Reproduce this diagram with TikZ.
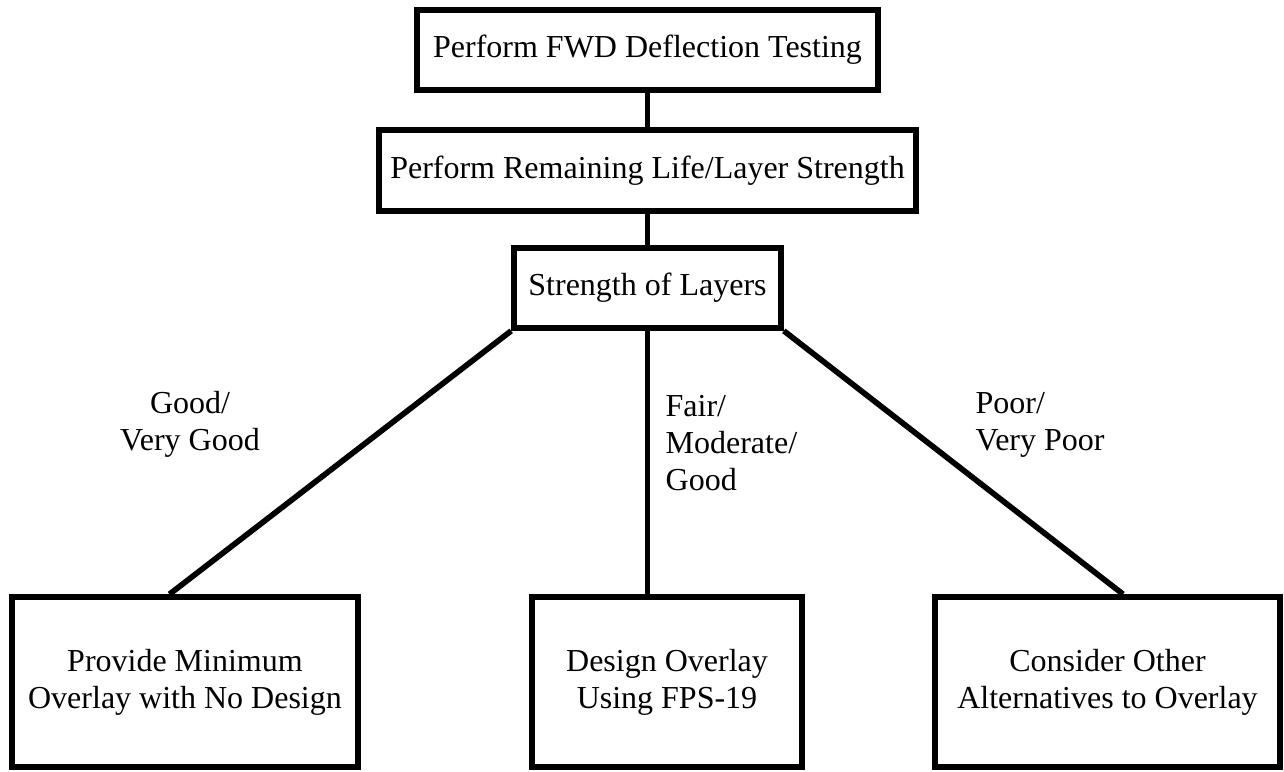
\documentclass[tikz,border=0pt]{standalone}
\usepackage{fontspec}
\setmainfont{Liberation Serif}
\begin{document}
\begin{tikzpicture}[x=0.3pt,y=-0.3pt,
  box/.style={draw,line width=1.7pt,inner sep=0pt,align=center,font=\fontsize{9.6}{11.2}\selectfont},
  branch/.style={line width=1.7pt},
  tag/.style={inner sep=0pt,font=\fontsize{9.6}{11.2}\selectfont}]
  \useasboundingbox (0,0) rectangle (1284,771);
  % top boxes
  \node[box,minimum width=138.3pt,minimum height=24pt] (fwd) at (647.5,50) {Perform FWD Deflection Testing};
  \node[box,minimum width=161.1pt,minimum height=24.3pt] (life) at (647.5,170.5) {Perform Remaining Life/Layer Strength};
  \node[box,minimum width=80.1pt,minimum height=24pt] (layers) at (647.5,288) {Strength of Layers};
  % bottom boxes
  \node[box,minimum width=103.8pt,minimum height=51pt] (minbox) at (185,682) {Provide Minimum\\Overlay with No Design};
  \node[box,minimum width=81pt,minimum height=51pt] (fpsbox) at (667,682) {Design Overlay\\Using FPS-19};
  \node[box,minimum width=103.5pt,minimum height=51pt] (altbox) at (1107.5,682) {Consider Other\\Alternatives to Overlay};
  % lines
  \draw[branch] (fwd.south) -- (life.north);
  \draw[branch] (life.south) -- (layers.north);
  \draw[branch] (layers.south west) -- (minbox.100);
  \draw[branch] (layers.south) -- (layers.south |- fpsbox.north);
  \draw[branch] (layers.south east) -- (altbox.80);
  % labels
  \node[tag,align=center] (goodlbl) at (190,424) {Good/\\Very Good};
  \node[tag,align=left,anchor=west] (fairlbl) at (665,443) {Fair/\\Moderate/\\Good};
  \node[tag,align=left,anchor=west] (poorlbl) at (975,425) {Poor/\\Very Poor};
\end{tikzpicture}
\end{document}
